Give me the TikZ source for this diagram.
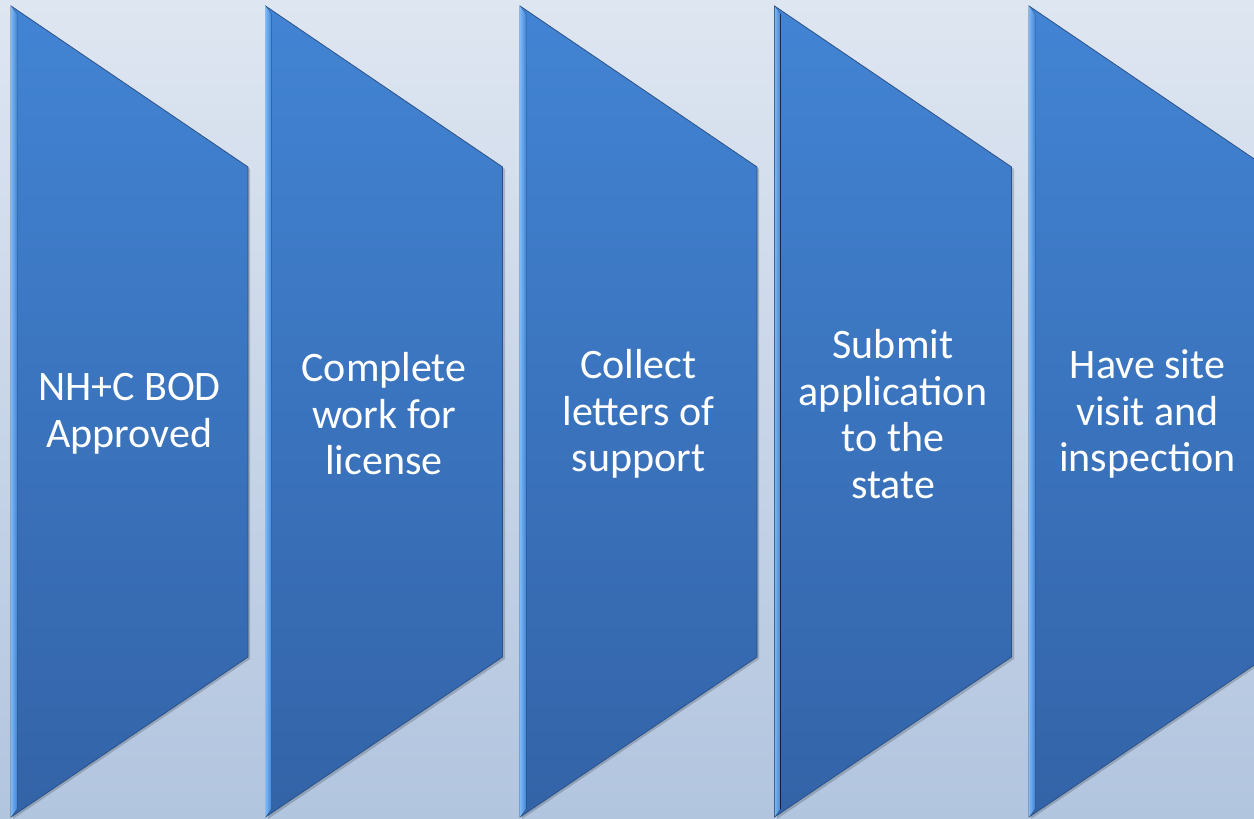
\documentclass[tikz,border=0pt]{standalone}
\usepackage{fontspec}
\setmainfont{Carlito}
\usepackage{xcolor}
\definecolor{bgtop}{HTML}{DEE6F1}
\definecolor{bgbot}{HTML}{B2C5DF}
\definecolor{chevtop}{HTML}{4284D4}
\definecolor{chevbot}{HTML}{3363A7}
\definecolor{chevline}{HTML}{2C5288}
\definecolor{chevlight}{HTML}{7DB8F6}
\tikzset{
	chev/.style={top color=chevtop, bottom color=chevbot, draw=chevline, line width=0.8pt, line join=miter},
	chevshadow/.style={fill=black, opacity=0.18},
	chevedge/.style={left color=chevlight, right color=chevtop},
	steptext/.style={text=white, align=center, anchor=center, font=\fontsize{42}{46.5}\selectfont}
}

\begin{document}
\begin{tikzpicture}[x=1pt, y=1pt]
		\useasboundingbox (0, 0) rectangle (1254, 819);
		\clip (0, 0) rectangle (1254, 819);
		\shade[top color=bgtop, bottom color=bgbot] (0, 0) rectangle (1254, 819);
		% shadows
		\fill[chevshadow] (13, 811) -- ++(237, -161) -- ++(0, -490) -- ++(-237, -160) -- cycle;
		\fill[chevshadow] (268, 811) -- ++(237, -161) -- ++(0, -490) -- ++(-237, -160) -- cycle;
		\fill[chevshadow] (522, 811) -- ++(237, -161) -- ++(0, -490) -- ++(-237, -160) -- cycle;
		\fill[chevshadow] (777, 811) -- ++(237, -161) -- ++(0, -490) -- ++(-237, -160) -- cycle;
		\fill[chevshadow] (1031, 811) -- ++(237, -161) -- ++(0, -490) -- ++(-237, -160) -- cycle;
		% chevrons
		\path[chev] (11, 813) -- ++(237, -161) -- ++(0, -490) -- ++(-237, -160) -- cycle;
		\path[chev] (265.5, 813) -- ++(237, -161) -- ++(0, -490) -- ++(-237, -160) -- cycle;
		\path[chev] (520, 813) -- ++(237, -161) -- ++(0, -490) -- ++(-237, -160) -- cycle;
		\path[chev] (774.5, 813) -- ++(237, -161) -- ++(0, -490) -- ++(-237, -160) -- cycle;
		\path[chev] (1029, 813) -- ++(237, -161) -- ++(0, -490) -- ++(-237, -160) -- cycle;
		% bevel strips
		\fill[chevedge] (11, 813) -- ++(6, -8) -- ++(0, -795) -- ++(-6, -8) -- cycle;
		\fill[chevedge] (265.5, 813) -- ++(6, -8) -- ++(0, -795) -- ++(-6, -8) -- cycle;
		\fill[chevedge] (520, 813) -- ++(6, -8) -- ++(0, -795) -- ++(-6, -8) -- cycle;
		\fill[chevedge] (774.5, 813) -- ++(6, -8) -- ++(0, -795) -- ++(-6, -8) -- cycle;
		\fill[chevedge] (1029, 813) -- ++(6, -8) -- ++(0, -795) -- ++(-6, -8) -- cycle;
		% labels
		\node(bod)[steptext] at (129.5, 405) {NH+C BOD\\Approved};
		\node(work)[steptext] at (384, 405) {Complete\\work for\\license};
		\node(letters)[steptext] at (638.5, 405) {Collect\\letters of\\support};
		\node(submit)[steptext] at (893, 405) {Submit\\application\\to the\\state};
		\node(visit)[steptext] at (1147.5, 405) {Have site\\visit and\\inspection};
\end{tikzpicture}
\end{document}
